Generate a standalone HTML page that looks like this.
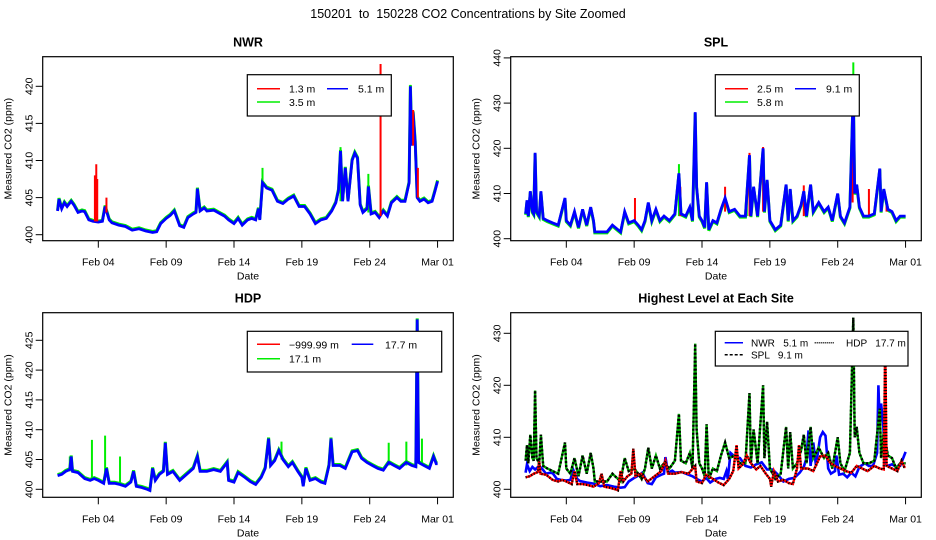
<!DOCTYPE html>
<html><head><meta charset="utf-8"><style>
html,body{margin:0;padding:0;background:#fff;}
svg{display:block;font-family:"Liberation Sans",sans-serif;}
text{white-space:pre;}
</style></head><body>
<svg id="chart" width="936" height="540" viewBox="0 0 936 540">
<text x="468" y="18" text-anchor="middle" font-size="12.5">150201  to  150228 CO2 Concentrations by Site Zoomed</text>
</svg>
<script>
// ---- data (days since Feb 01 00:00) ----
const xTickDays = [3, 8, 13, 18, 23, 28];
const xTickLabels = ["Feb 04", "Feb 09", "Feb 14", "Feb 19", "Feb 24", "Mar 01"];

const nwrT = [0,0.1,0.3,0.5,0.7,1,1.2,1.5,1.8,2,2.3,2.6,3,3.3,3.5,3.8,4,4.5,5,5.5,6,6.5,7,7.3,7.6,8,8.3,8.6,9,9.3,9.6,10,10.2,10.3,10.5,10.8,11,11.5,12,12.3,12.6,13,13.3,13.6,14,14.3,14.6,14.8,14.9,15.1,15.4,15.8,16.2,16.6,17,17.4,17.8,18.2,18.6,19,19.4,19.8,20.2,20.5,20.7,20.85,21,21.2,21.4,21.7,21.9,22.1,22.3,22.5,22.8,22.9,23.1,23.4,23.7,24,24.3,24.6,25,25.3,25.6,25.9,26.0,26.1,26.2,26.35,26.5,26.7,27,27.3,27.6,27.8,28];
const nwrV = [403.2,404.8,403.5,404.3,403.8,404.5,404,403,403.2,403.1,402,401.8,401.7,401.8,403.8,402,401.6,401.3,401.1,400.6,400.8,400.5,400.3,400.4,401.5,402.2,402.6,403.2,401.2,401,402.3,402.8,403,406.2,403.2,403.6,403.2,403.3,402.8,402.5,402,401.5,402.2,401.3,402,402.2,402,403.5,402,407,406.3,406,404.5,404.2,404.8,405.2,403.8,403.8,402.8,401.5,402,402.2,403.2,404.3,406,411.3,404.5,409,404.5,410,411,410.3,404,403,403.5,406.5,402.8,403,402.3,403.2,402.5,404.3,405,404.5,404.5,407,420,412,416.5,412.5,405,404.5,404.8,404.3,404.5,405.8,407.2];
const nwrRedT = [2.75,2.85,2.92,3.6,23.8,26.2,26.55];
const nwrRedTop = [408,409.5,407.5,405,423,416.8,409];
const nwrRedBase = [401.8,401.8,401.8,403,402.5,412,405];
const nwrGreenT = [15.1,20.85,26.0,22.9];
const nwrGreenTop = [409,411.8,420.2,408.2];
const nwrGreenBase = [406,404.5,413,403];

const splT = [0,0.1,0.2,0.35,0.5,0.6,0.7,0.8,1.0,1.13,1.3,1.6,2,2.4,2.9,3.0,3.3,3.6,3.9,4.2,4.5,4.8,5.0,5.1,5.5,6,6.4,6.8,7.0,7.3,7.6,8.0,8.3,8.55,8.8,9.04,9.3,9.6,9.9,10.2,10.6,11.0,11.3,11.45,11.8,12.1,12.3,12.5,12.6,12.8,13.0,13.2,13.34,13.5,13.8,14.1,14.4,14.7,15.0,15.4,15.8,16.2,16.5,16.6,16.8,17.1,17.5,17.6,17.8,18.0,18.4,18.8,19.2,19.35,19.5,19.7,20.0,20.3,20.5,20.7,21.0,21.2,21.6,22.0,22.3,22.6,23.0,23.2,23.5,23.9,24.15,24.25,24.4,24.6,24.9,25.3,25.7,26.1,26.2,26.4,26.7,27.0,27.3,27.6,28];
const splV = [405.5,408.5,405,410.5,406,405.5,419,406,405,410.5,404.5,404,403.5,403,409,404,403,406,402.5,406.5,403,407,404,401.5,401.5,401.5,403,402,401.5,406,403.5,404,403,402,404,408,404,406.5,404,405,404,405.5,414.5,405.5,405,407,404,428,411.5,405,404,402.5,412.5,402,404,403.5,406.5,409,406,406.5,405,405,418.5,405,411.5,405,420,406,413,404,402,403,412,404,411,404,405,407.5,410.5,405,412,406,408,406,407,404,410,405,403.5,407,433,410,412,407,405,405,405.5,415.5,406,411,406.5,406,404,405,405];
const splRedT = [8.06,11.4,14.7,16.5,17.5,20.5,24.1,25.3,26.6];
const splRedTop = [409,411.5,411.5,419,420.3,411.8,419,411,408.5];
const splRedBase = [404,405,406,405,406,405,408,405,406];
const splGreenT = [11.3,24.15,16.3];
const splGreenTop = [416.5,439,410.5];
const splGreenBase = [405,415,405];

const hdpT = [0,0.3,0.6,0.9,1.0,1.1,1.5,2,2.4,2.7,3,3.4,3.6,3.8,4.2,4.6,5,5.4,5.6,5.8,6.2,6.6,6.8,7.0,7.2,7.5,7.8,7.94,8.1,8.5,9.0,9.5,10.0,10.3,10.5,11,11.5,12,12.5,12.6,13,13.3,13.8,14.2,14.6,15,15.3,15.55,15.7,16,16.3,16.6,17,17.3,17.7,18.0,18.1,18.3,18.6,19.0,19.4,19.7,20.0,20.15,20.3,20.8,21.2,21.7,22.1,22.4,22.8,23.2,23.6,24,24.4,24.8,25.2,25.7,26.1,26.4,26.5,26.6,27,27.4,27.7,27.9,28];
const hdpV = [402.3,402.5,403,403.3,405.5,403,402.8,401.8,401.5,401.8,401.5,401,403.5,401,401,400.8,400.5,401.2,403,400.5,400.3,400,399.8,403.5,401.5,402.5,403,407.8,402.5,403,401.5,402.5,403.5,405.5,403,403,403.3,403,404.5,401.5,401.2,402.8,402,401.3,400.8,402,403.5,408.5,404,404.8,406.5,405,403.8,404.5,403,402,400.5,403.5,401.5,401.8,401.2,401,404,408.5,404,404,403.5,406.3,406.5,405.2,404.5,404,403.5,403.2,404.5,404,403.5,404.5,404,403.8,428.5,404.5,404,403.5,405.5,404.3,404.3];
const hdpGreenT = [2.53,3.5,4.6,16.5,24.4,25.7,26.85,0.9];
const hdpGreenTop = [408.3,409,405.5,408,407.8,408,408.5,405.5];
const hdpGreenBase = [402,401.5,401,405,404,404,404,403];

const nwrYTicks = [400,405,410,415,420];
const splYTicks = [400,410,420,430,440];
const hdpYTicks = [400,405,410,415,420,425];
const allYTicks = [400,410,420,430];

// ---- layout ----
const NS = "http://www.w3.org/2000/svg";
const svg = document.getElementById("chart");
const panels = {
  nwr: {bx0:42.7,bx1:453.3,by0:56.7,by1:240.7,day0:57.6,dayW:13.57,v0:400,y0:234.7,py:7.42,title:"NWR"},
  spl: {bx0:510.7,bx1:921.3,by0:56.7,by1:240.7,day0:525.6,dayW:13.57,v0:400,y0:238.7,py:4.52,title:"SPL"},
  hdp: {bx0:42.7,bx1:453.3,by0:312.7,by1:497.3,day0:57.6,dayW:13.57,v0:400,y0:489.3,py:5.96,title:"HDP"},
  all: {bx0:510.7,bx1:921.3,by0:312.7,by1:497.3,day0:525.6,dayW:13.57,v0:400,y0:489.3,py:5.2,title:"Highest Level at Each Site"}
};
function sx(p,t){return p.day0 + t*p.dayW;}
function sy(p,v){return p.y0 - (v-p.v0)*p.py;}
function mk(tag, attrs, parent){
  const e=document.createElementNS(NS,tag);
  for(const k in attrs) e.setAttribute(k,attrs[k]);
  (parent||svg).appendChild(e);
  return e;
}
function clipFor(p,id){
  const cp=mk("clipPath",{id:id});
  mk("rect",{x:p.bx0,y:p.by0,width:p.bx1-p.bx0,height:p.by1-p.by0},cp);
  return "url(#"+id+")";
}
function axes(p,key,yTicks){
  const g=mk("g",{});
  
  
  const box=mk("rect",{x:p.bx0,y:p.by0,width:p.bx1-p.bx0,height:p.by1-p.by0,fill:"none",stroke:"#000","stroke-width":1.2},g);
  
  
  const tt=mk("text",{x:(p.bx0+p.bx1)/2,y:p.by0-10,"text-anchor":"middle","font-size":12.5,"font-weight":"bold"},g);
  tt.textContent=p.title;
  
  
  xTickDays.forEach((d,i)=>{
    const x=sx(p,d);
    mk("line",{x1:x,x2:x,y1:p.by1,y2:p.by1+7,stroke:"#000"},g);
    const t=mk("text",{x:x,y:p.by1+25,"text-anchor":"middle","font-size":10.5},g);
    t.textContent=xTickLabels[i];
    
    
  });
  const xt=mk("text",{x:(p.bx0+p.bx1)/2,y:p.by1+39,"text-anchor":"middle","font-size":10.5},g);
  xt.textContent="Date";
  
  
  yTicks.forEach(v=>{
    const y=sy(p,v);
    mk("line",{x1:p.bx0,x2:p.bx0-7,y1:y,y2:y,stroke:"#000"},g);
    const t=mk("text",{x:p.bx0-10,y:y,"text-anchor":"middle","font-size":10.5,transform:"rotate(-90 "+(p.bx0-10)+" "+y+")"},g);
    t.textContent=String(v);
    
    
  });
  const cy=(p.by0+p.by1)/2, cx=p.bx0-31;
  const yt=mk("text",{x:cx,y:cy,"text-anchor":"middle","font-size":10.5,transform:"rotate(-90 "+cx+" "+cy+")"},g);
  yt.textContent="Measured CO2 (ppm)";
  
  
}
function line(p,T,V,color,w,clip,name,dash,dy){
  let d="";
  const off=dy||0;
  for(let i=0;i<T.length;i++) d+=(i?"L":"M")+sx(p,T[i]).toFixed(1)+" "+(sy(p,V[i])+off).toFixed(1);
  const a={d:d,fill:"none",stroke:color,"stroke-width":w,"clip-path":clip,"stroke-linejoin":"miter"};
  if(dash) a["stroke-dasharray"]=dash;
  const e=mk("path",a);
  
  
  return e;
}
function spikes(p,T,top,base,color,clip,name){
  for(let i=0;i<T.length;i++){
    const x=sx(p,T[i]);
    const e=mk("line",{x1:x,x2:x,y1:sy(p,base[i]),y2:sy(p,top[i]),stroke:color,"stroke-width":2,"clip-path":clip});
    
    
  }
}
function legend(key,bx,by,bw,bh,items){
  const g=mk("g",{});
  
  
  mk("rect",{x:bx,y:by,width:bw,height:bh,fill:"#fff",stroke:"#000","stroke-width":1.2},g);
  items.forEach(it=>{
    const a={x1:it.lx0,x2:it.lx1,y1:it.y,y2:it.y,stroke:it.c,"stroke-width":1.5};
    if(it.dash) a["stroke-dasharray"]=it.dash;
    mk("line",a,g);
    const t=mk("text",{x:it.tx,y:it.y+4,"font-size":it.fs||10.5},g);
    t.textContent=it.label;
    
    
  });
}

// ---- NWR ----
(function(){
  const p=panels.nwr, c=clipFor(p,"cNwr");
  axes(p,"nwr",nwrYTicks);
  line(p,nwrT,nwrV,"#00ee00",3,c,"nwr-3.5m-line",null,-1);
  spikes(p,nwrGreenT,nwrGreenTop,nwrGreenBase,"#00ee00",c,"nwr-3.5m-spike");
  line(p,nwrT,nwrV,"#0000ff",2.8,c,"nwr-5.1m-line");
  spikes(p,nwrRedT,nwrRedTop,nwrRedBase,"#ff0000",c,"nwr-1.3m-spike");
  legend("nwr",247.3,74.7,144,41.3,[
    {lx0:257,lx1:280,y:88.7,c:"#ff0000",tx:289,label:"1.3 m"},
    {lx0:257,lx1:280,y:102,c:"#00ee00",tx:289,label:"3.5 m"},
    {lx0:327,lx1:348,y:88.7,c:"#0000ff",tx:358,label:"5.1 m"}]);
})();
// ---- SPL ----
(function(){
  const p=panels.spl, c=clipFor(p,"cSpl");
  axes(p,"spl",splYTicks);
  line(p,splT,splV,"#00ee00",3,c,"spl-5.8m-line",null,1);
  spikes(p,splGreenT,splGreenTop,splGreenBase,"#00ee00",c,"spl-5.8m-spike");
  spikes(p,splRedT,splRedTop,splRedBase,"#ff0000",c,"spl-2.5m-spike");
  line(p,splT,splV,"#0000ff",2.8,c,"spl-9.1m-line");
  legend("spl",715.3,74.7,144,41.3,[
    {lx0:725,lx1:748,y:88.7,c:"#ff0000",tx:757,label:"2.5 m"},
    {lx0:725,lx1:748,y:102,c:"#00ee00",tx:757,label:"5.8 m"},
    {lx0:795,lx1:816,y:88.7,c:"#0000ff",tx:826,label:"9.1 m"}]);
})();
// ---- HDP ----
(function(){
  const p=panels.hdp, c=clipFor(p,"cHdp");
  axes(p,"hdp",hdpYTicks);
  line(p,hdpT,hdpV,"#00ee00",3,c,"hdp-17.1m-line",null,-1);
  spikes(p,hdpGreenT,hdpGreenTop,hdpGreenBase,"#00ee00",c,"hdp-17.1m-spike");
  line(p,hdpT,hdpV,"#0000ff",2.8,c,"hdp-17.7m-line");
  legend("hdp",247.3,331.3,194.4,40.7,[
    {lx0:257,lx1:280,y:344.3,c:"#ff0000",tx:289,label:"\u2212999.99 m"},
    {lx0:257,lx1:280,y:358.7,c:"#00ee00",tx:289,label:"17.1 m"},
    {lx0:351.7,lx1:373.3,y:344.3,c:"#0000ff",tx:385,label:"17.7 m"}]);
})();
// ---- Highest level ----
(function(){
  const p=panels.all, c=clipFor(p,"cAll");
  axes(p,"highest",allYTicks);
  line(p,nwrT,nwrV,"#0000ff",2.6,c,"highest-nwr-line");
  line(p,splT,splV,"#00aa00",2.4,c,"highest-spl-line");
  line(p,splT,splV,"#000",2.4,c,"highest-spl-dash","2 2");
  line(p,hdpT,hdpV,"#ff0000",2.4,c,"highest-hdp-line");
  line(p,hdpT,hdpV,"#000",2.4,c,"highest-hdp-dots","1 2");
  legend("highest",715.3,331.3,192.7,34.7,[
    {lx0:724.7,lx1:743,y:342.7,c:"#0000ff",tx:751,fs:10,label:"NWR   5.1 m"},
    {lx0:724.7,lx1:743,y:354.7,c:"#000",dash:"3 2",tx:751,fs:10,label:"SPL   9.1 m"},
    {lx0:814.7,lx1:834.7,y:342.7,c:"#000",dash:"1 1",tx:846,fs:10,label:"HDP   17.7 m"}]);
})();
</script>
</body></html>
